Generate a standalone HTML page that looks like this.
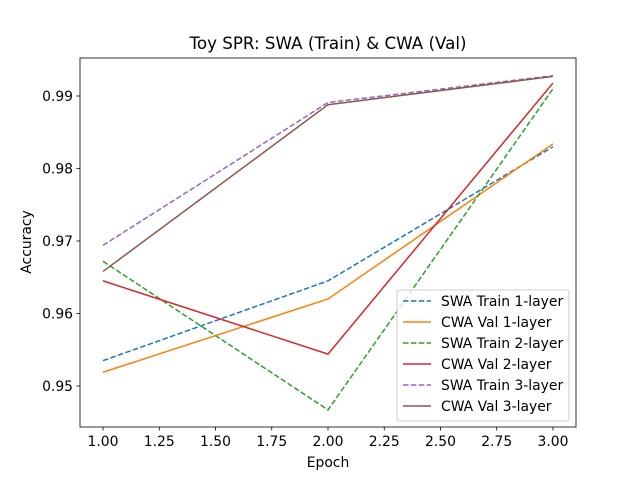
<!DOCTYPE html>
<html><head><meta charset="utf-8"><style>
body{margin:0;background:#fff;}
svg text{font-family:"DejaVu Sans","Liberation Sans",sans-serif;}
</style></head><body>
<svg id="chart" width="640" height="480" xmlns="http://www.w3.org/2000/svg">
<rect width="640" height="480" fill="#fff"/>
<text x="328" y="49" font-size="16.7" text-anchor="middle">Toy SPR: SWA (Train) &amp; CWA (Val)</text>
<g id="grid"></g>
<g id="series"></g>
<rect x="80" y="58" width="496" height="369" fill="none" stroke="#000" stroke-width="0.8"/>
<text x="328" y="467" font-size="13.9" text-anchor="middle">Epoch</text>
<text x="31" y="242" font-size="13.9" text-anchor="middle" transform="rotate(-90 31 242)">Accuracy</text>
<g id="legend"></g>
</svg>
<script>
const epochs=[1,2,3];
const xTicks=[1.0,1.25,1.5,1.75,2.0,2.25,2.5,2.75,3.0];
const yTicks=[0.95,0.96,0.97,0.98,0.99];
const swaTrain1=[0.9535,0.9645,0.9830];
const cwaVal1=[0.9519,0.9620,0.9834];
const swaTrain2=[0.9672,0.9467,0.9910];
const cwaVal2=[0.9645,0.9544,0.9918];
const swaTrain3=[0.9694,0.9891,0.9928];
const cwaVal3=[0.9658,0.9888,0.9927];
const seriesNames=["SWA Train 1-layer","CWA Val 1-layer","SWA Train 2-layer","CWA Val 2-layer","SWA Train 3-layer","CWA Val 3-layer"];
const NS="http://www.w3.org/2000/svg";
const X=v=>103+(v-1)*225;
const Y=v=>96+(0.99-v)*7250;
const svg=document.getElementById('chart');
const g=document.getElementById('grid');
function mk(t,a,p){const e=document.createElementNS(NS,t);for(const k in a)e.setAttribute(k,a[k]);(p||svg).appendChild(e);return e;}
xTicks.forEach(t=>{
 const l=mk('line',{x1:X(t),x2:X(t),y1:427,y2:430.5,stroke:'#000','stroke-width':0.8},g);
 
 
 const tx=mk('text',{x:X(t),y:446,'font-size':13.9,'text-anchor':'middle'},g);tx.textContent=t.toFixed(2);
 
 
});
yTicks.forEach(t=>{
 const l=mk('line',{x1:76.5,x2:80,y1:Y(t),y2:Y(t),stroke:'#000','stroke-width':0.8},g);
 
 
 const tx=mk('text',{x:73,y:Y(t)+5,'font-size':13.9,'text-anchor':'end'},g);tx.textContent=t.toFixed(2);
 
 
});
const data=[swaTrain1,cwaVal1,swaTrain2,cwaVal2,swaTrain3,cwaVal3];
const colors=['#1f77b4','#ff7f0e','#2ca02c','#d62728','#9467bd','#8c564b'];
const dashed=[true,false,true,false,true,false];
const sg=document.getElementById('series');
data.forEach((d,i)=>{
 const pts=d.map((v,j)=>X(epochs[j])+','+Y(v)).join(' ');
 const p=mk('polyline',{points:pts,fill:'none',stroke:colors[i],'stroke-width':1.5,'stroke-dasharray':dashed[i]?'5.5,2.4':'none'},sg);
 
 
});
const lg=document.getElementById('legend');
const box=mk('rect',{x:397,y:290,width:172,height:131,rx:2,fill:'#fff','fill-opacity':0.8,stroke:'#ccc'},lg);


seriesNames.forEach((n,i)=>{
 const y=301+i*21;
 const l=mk('line',{x1:403,x2:431,y1:y,y2:y,stroke:colors[i],'stroke-width':1.5,'stroke-dasharray':dashed[i]?'5.5,2.4':'none'},lg);
 
 
 const t=mk('text',{x:441,y:y+5,'font-size':13.9},lg);t.textContent=n;
 
 
});
</script>
</body></html>
